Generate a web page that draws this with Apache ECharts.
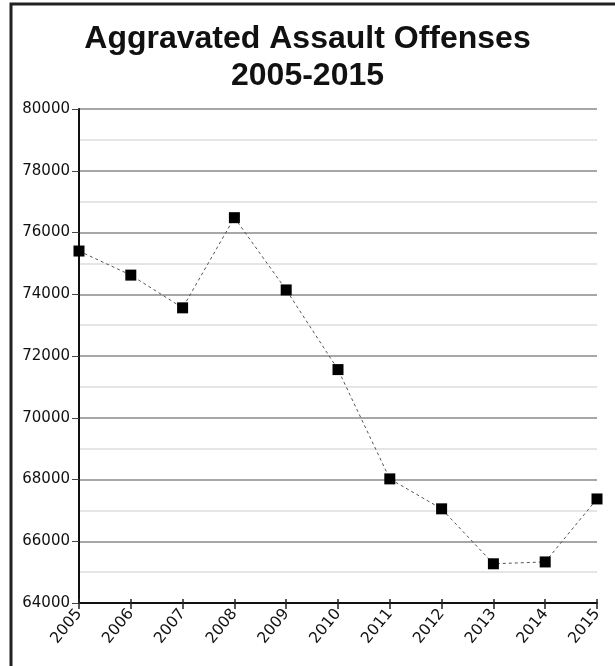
<!DOCTYPE html>
<html>
<head>
<meta charset="utf-8">
<script src="https://cdn.jsdelivr.net/npm/echarts@6/dist/echarts.min.js"></script>
<style>
html,body{margin:0;padding:0;background:#fff;}
#c{width:615px;height:666px;}
</style>
</head>
<body>
<div id="c"></div>
<script>
const titleText = 'Aggravated Assault Offenses\n2005-2015';
const years = ['2005','2006','2007','2008','2009','2010','2011','2012','2013','2014','2015'];
const offenses = [75400, 74620, 73560, 76480, 74140, 71560, 68020, 67050, 65270, 65330, 67370];
const yMin = 64000, yMax = 80000, yStep = 2000;

const chart = echarts.init(document.getElementById('c'), null, {renderer:'canvas'});
chart.setOption({
  backgroundColor:'#fff',
  animation:false,
  title:{
    text:titleText,
    left:'center', top:16,
    textStyle:{fontFamily:'Liberation Sans, Arial, sans-serif', fontWeight:'bold', fontSize:32, lineHeight:37, color:'#111'}
  },
  grid:{left:79, right:18, top:109, bottom:63, containLabel:false},
  xAxis:[{
    type:'category', data:years, boundaryGap:false,
    axisLine:{show:true, lineStyle:{color:'#111', width:2}},
    axisTick:{show:true, alignWithLabel:true, length:6, lineStyle:{color:'#222', width:1.5}},
    axisLabel:{rotate:51, margin:8, fontFamily:'DejaVu Sans', fontSize:15.5, color:'#111'},
    splitLine:{show:false}
  },{
    type:'category', data:years, boundaryGap:false, position:'bottom',
    axisLine:{show:false},
    axisTick:{show:true, inside:true, length:4, lineStyle:{color:'#222', width:1.5}},
    axisLabel:{show:false}, splitLine:{show:false}
  }],
  yAxis:{
    type:'value', min:yMin, max:yMax, interval:yStep,
    axisLine:{show:true, lineStyle:{color:'#111', width:2}},
    axisTick:{show:true, length:7, lineStyle:{color:'#444', width:1}},
    axisLabel:{margin:9, fontFamily:'DejaVu Sans', fontSize:15, color:'#111', formatter:function(v){return String(v);}},
    splitLine:{show:true, lineStyle:{color:'#8a8a8a', width:1.5}},
    minorTick:{show:false, splitNumber:2},
    minorSplitLine:{show:true, lineStyle:{color:'#dddddd', width:1.5}}
  },
  graphic:[{
    type:'polyline', silent:true, z:100,
    shape:{points:[[11,700],[11,4],[700,4]]},
    style:{stroke:'#222', lineWidth:3, fill:null}
  }],
  series:[{
    type:'line', data:offenses, xAxisIndex:0,
    symbol:'rect', symbolSize:11,
    itemStyle:{color:'#000'},
    lineStyle:{color:'#555', width:1, type:[3,3]},
    z:5
  }]
});
</script>
</body>
</html>
